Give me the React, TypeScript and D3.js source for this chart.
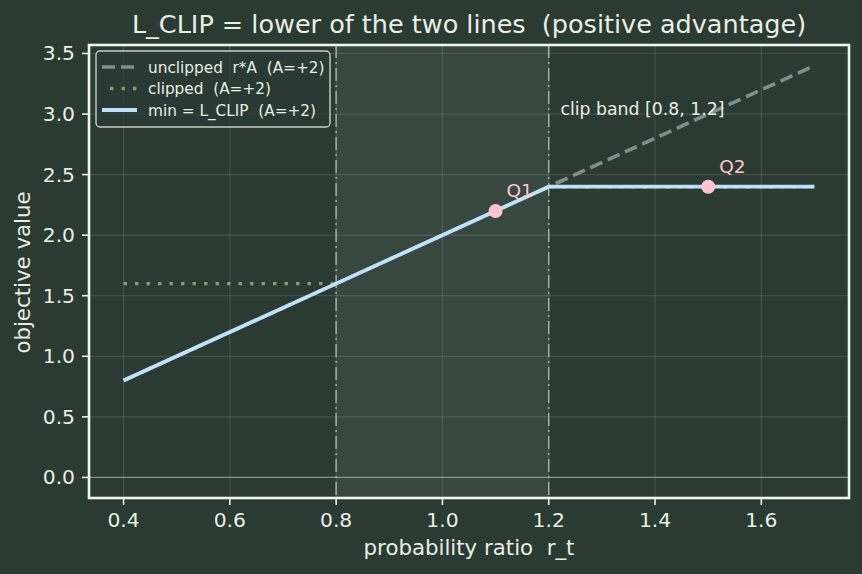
import React from "react";
import * as d3 from "d3";

// Probability ratio r_t and objective values for a positive advantage (A=+2)
const ratios = [0.4, 0.8, 1.2, 1.7];
const unclipped = [0.8, 1.6, 2.4, 3.4];
const clipped = [1.6, 1.6, 2.4, 2.4];
const lclip = [0.8, 1.6, 2.4, 2.4];

const clipBand = [0.8, 1.2];

const pointLabels = ["Q1", "Q2"];
const pointR = [1.1, 1.5];
const pointV = [2.2, 2.4];

const xTicks = [0.4, 0.6, 0.8, 1.0, 1.2, 1.4, 1.6];
const yTicks = [0.0, 0.5, 1.0, 1.5, 2.0, 2.5, 3.0, 3.5];

const legendLabels = [
  "unclipped  r*A  (A=+2)",
  "clipped  (A=+2)",
  "min = L_CLIP  (A=+2)",
];

const W = 862;
const H = 574;
const M = { left: 89, right: 849, top: 45, bottom: 498 };

const BG = "#2b3a33";
const TXT = "#e9efe4";
const FONT = "DejaVu Sans, sans-serif";

// keep runs of spaces visible in SVG text
const keepSpaces = (s: string) => s.replace(/  /g, " \u00a0");

export default function App() {
  const x = d3.scaleLinear().domain([0.335, 1.765]).range([M.left, M.right]);
  const y = d3.scaleLinear().domain([-0.17, 3.57]).range([M.bottom, M.top]);

  const line = d3
    .line<[number, number]>()
    .x((d) => x(d[0]))
    .y((d) => y(d[1]));

  const zip = (vals: number[]) =>
    ratios.map((r, i) => [r, vals[i]] as [number, number]);

  const series = [
    { vals: clipped, color: "#959a6c", width: 3.4, dash: "3.4 8.1", offset: -8 },
    { vals: unclipped, color: "#7e8f8e", width: 3.6, dash: "13 6", offset: 0 },
    { vals: lclip, color: "#bfe2fb", width: 3.8, dash: undefined as string | undefined, offset: 0 },
  ];
  const legendStyles = [series[1], series[0], series[2]];

  return (
    <svg
      width={W}
      height={H}
      style={{ display: "block", position: "absolute", left: 0, top: 0 }}
      fontFamily={FONT}
    >
      <rect width={W} height={H} fill={BG} />

      {/* clip band shading */}
      <rect
        x={x(clipBand[0])}
        y={M.top}
        width={x(clipBand[1]) - x(clipBand[0])}
        height={M.bottom - M.top}
        fill="#ffffff"
        opacity={0.07}
      />

      {/* grid */}
      {xTicks.map((t) => (
        <line
          key={"gx" + t}
          x1={x(t)}
          x2={x(t)}
          y1={M.top}
          y2={M.bottom}
          stroke="#ffffff"
          strokeOpacity={0.12}
          strokeWidth={1.2}
        />
      ))}
      {yTicks.map((t) => (
        <line
          key={"gy" + t}
          x1={M.left}
          x2={M.right}
          y1={y(t)}
          y2={y(t)}
          stroke="#ffffff"
          strokeOpacity={0.12}
          strokeWidth={1.2}
        />
      ))}

      {/* zero line */}
      <line
        x1={M.left}
        x2={M.right}
        y1={y(0)}
        y2={y(0)}
        stroke="#c8d0c8"
        strokeOpacity={0.5}
        strokeWidth={1.4}
      />

      {/* band edges */}
      {clipBand.map((b) => (
        <line
          key={"b" + b}
          x1={x(b)}
          x2={x(b)}
          y1={M.top}
          y2={M.bottom}
          stroke="#a3ada6"
          strokeWidth={1.5}
          strokeDasharray="13 4 2 4"
        />
      ))}

      {/* lines */}
      {series.map((s, i) => (
        <path
          key={"s" + i}
          d={line(zip(s.vals)) || ""}
          fill="none"
          stroke={s.color}
          strokeWidth={s.width}
          strokeDasharray={s.dash}
        />
      ))}

      {/* marked points */}
      {pointLabels.map((lab, i) => (
        <g key={lab}>
          <circle cx={x(pointR[i])} cy={y(pointV[i])} r={7} fill="#ffc4d0" />
          <text
            x={x(pointR[i]) + 11}
            y={y(pointV[i]) - 14}
            fill="#ffc4d0"
            fontSize={18.5}
          >
            {lab}
          </text>
        </g>
      ))}

      <text x={x(1.222)} y={y(3.0) + 1} fill={TXT} fontSize={17.3}>
        clip band [0.8, 1.2]
      </text>

      {/* spines */}
      <rect
        x={M.left}
        y={M.top}
        width={M.right - M.left}
        height={M.bottom - M.top}
        fill="none"
        stroke="#f2f4ee"
        strokeWidth={2.6}
      />

      {/* ticks */}
      {xTicks.map((t) => (
        <g key={"tx" + t}>
          <line x1={x(t)} x2={x(t)} y1={M.bottom} y2={M.bottom + 7} stroke={TXT} strokeWidth={1.6} />
          <text x={x(t)} y={M.bottom + 29} fill={TXT} fontSize={20.3} textAnchor="middle">
            {t.toFixed(1)}
          </text>
        </g>
      ))}
      {yTicks.map((t) => (
        <g key={"ty" + t}>
          <line x1={M.left - 7} x2={M.left} y1={y(t)} y2={y(t)} stroke={TXT} strokeWidth={1.6} />
          <text x={M.left - 14} y={y(t) + 7} fill={TXT} fontSize={20.3} textAnchor="end">
            {t.toFixed(1)}
          </text>
        </g>
      ))}

      {/* axis labels and title */}
      <text x={(M.left + M.right) / 2} y={555} fill={TXT} fontSize={21.3} textAnchor="middle">
        {keepSpaces("probability ratio  r_t")}
      </text>
      <text
        transform={`translate(29.5, ${272.5}) rotate(-90)`}
        fill={TXT}
        fontSize={21.3}
        textAnchor="middle"
      >
        objective value
      </text>
      <text x={(M.left + M.right) / 2} y={33} fill={TXT} fontSize={25.5} textAnchor="middle">
        {keepSpaces("L_CLIP = lower of the two lines  (positive advantage)")}
      </text>

      {/* legend */}
      <g>
        <rect
          x={96}
          y={51}
          width={234}
          height={76}
          rx={4}
          fill={BG}
          fillOpacity={0.8}
          stroke="#c9cfc6"
          strokeWidth={1.4}
        />
        {legendLabels.map((lab, i) => {
          const s = legendStyles[i];
          const ly = 67 + i * 21.5;
          return (
            <g key={lab}>
              <line
                x1={102}
                x2={137}
                y1={ly}
                y2={ly}
                stroke={s.color}
                strokeWidth={s.width}
                strokeDasharray={s.dash}
                strokeDashoffset={s.offset}
              />
              <text x={148} y={ly + 5.5} fill={TXT} fontSize={15.3}>
                {keepSpaces(lab)}
              </text>
            </g>
          );
        })}
      </g>
    </svg>
  );
}
